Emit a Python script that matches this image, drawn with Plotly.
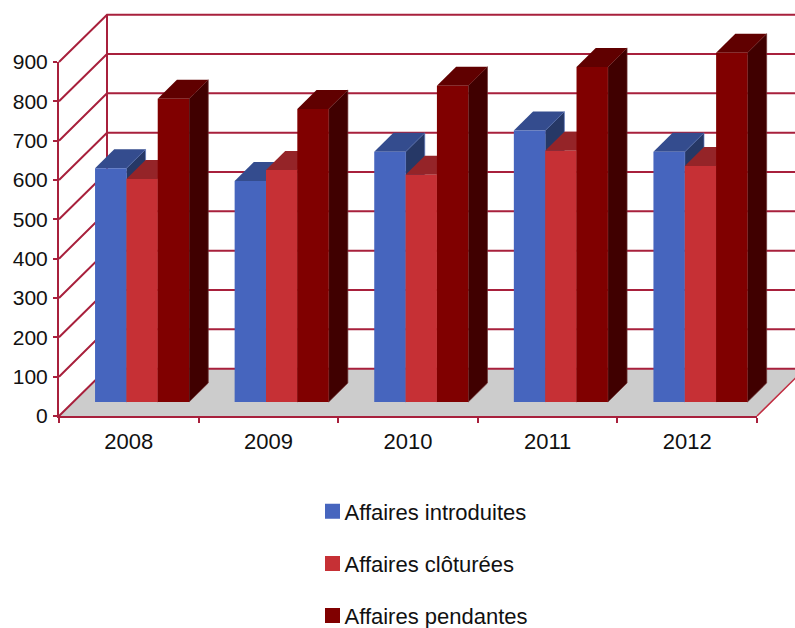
import plotly.graph_objects as go

CATEGORIES = ["2008", "2009", "2010", "2011", "2012"]
INTRODUITES = [594, 562, 636, 690, 636]
CLOTUREES = [567, 590, 578, 639, 600]
PENDANTES = [771, 745, 804, 852, 888]
Y_TICKS = [0, 100, 200, 300, 400, 500, 600, 700, 800, 900]
SERIES_NAMES = ["Affaires introduites", "Affaires clôturées", "Affaires pendantes"]

W, H = 795, 628
AX_L, AX_R, AX_B, AX_T = 59, 757, 416, 62
CAT_PX = (AX_R - AX_L) / len(CATEGORIES)
VAL_PX = (AX_B - AX_T) / 900
WALL_DX, WALL_DY = 48, 47.3
FRONT_DX, FRONT_DY = 14.4, 14
BAR_DX, BAR_DY = 19.2, 19
BAR_W = 0.2245
BAR_START = 0.155
GRID = "#A8203C"
FONT = "Liberation Sans"

STYLES = [
    dict(front="#4665BE", top="#344C8E", side="#263866", edge="#5F78BE"),
    dict(front="#C63035", top="#952428", side="#6A1A1D", edge="#A84A4E"),
    dict(front="#800000", top="#600000", side="#400000", edge="#703434"),
]


def proj(x, v, dx=0.0, dy=0.0):
    return x + dx / CAT_PX, v + dy / VAL_PX


def poly(points):
    xs, ys = zip(*points)
    return list(xs) + [xs[0]], list(ys) + [ys[0]]


fig = go.Figure()


def face(points, color, edge=None):
    xs, ys = poly(points)
    fig.add_trace(go.Scatter(x=xs, y=ys, mode="lines", fill="toself", fillcolor=color,
                             line=dict(width=0.7 if edge else 0, color=edge or color),
                             hoverinfo="skip", showlegend=False))


def line(points, width=2, color=GRID):
    xs, ys = zip(*points)
    fig.add_trace(go.Scatter(x=list(xs), y=list(ys), mode="lines",
                             line=dict(width=width, color=color),
                             hoverinfo="skip", showlegend=False))


N = len(CATEGORIES)
TOP = Y_TICKS[-1]

# floor
face([proj(0, 0), proj(N, 0), proj(N, 0, WALL_DX, WALL_DY), proj(0, 0, WALL_DX, WALL_DY)], "#CCCCCC")

# walls: grid
for t in Y_TICKS:
    line([proj(0, t), proj(0, t, WALL_DX, WALL_DY), proj(N, t, WALL_DX, WALL_DY)], width=2)
line([proj(0, 0, WALL_DX, WALL_DY), proj(0, TOP, WALL_DX, WALL_DY)], width=2)
line([proj(N, 0), proj(N, 0, WALL_DX, WALL_DY)], width=1.5, color="#C02C40")

# bars
ALL = [INTRODUITES, CLOTUREES, PENDANTES]
for i in range(N):
    for s, vals in enumerate(ALL):
        v = vals[i]
        st = STYLES[s]
        x0 = i + BAR_START + s * BAR_W
        x1 = x0 + BAR_W
        fx, fy = FRONT_DX, FRONT_DY
        bx, by = FRONT_DX + BAR_DX, FRONT_DY + BAR_DY
        face([proj(x1, 0, fx, fy), proj(x1, v, fx, fy), proj(x1, v, bx, by), proj(x1, 0, bx, by)], st["side"], st["edge"])
        face([proj(x0, v, fx, fy), proj(x1, v, fx, fy), proj(x1, v, bx, by), proj(x0, v, bx, by)], st["top"])
        face([proj(x0, 0, fx, fy), proj(x1, 0, fx, fy), proj(x1, v, fx, fy), proj(x0, v, fx, fy)], st["front"])

# legend
for name, st in zip(SERIES_NAMES, STYLES):
    fig.add_trace(go.Scatter(x=[None], y=[None], mode="markers", name=name, legendgroup=name,
                             marker=dict(symbol="square", size=15, color=st["front"])))

# real axes
fig.add_trace(go.Scatter(x=CATEGORIES, y=INTRODUITES, xaxis="x2", yaxis="y2", mode="markers",
                         marker=dict(opacity=0), hoverinfo="skip", showlegend=False))

fig.update_layout(
    width=W, height=H,
    margin=dict(l=0, r=0, t=0, b=0, autoexpand=False),
    paper_bgcolor="white", plot_bgcolor="rgba(0,0,0,0)",
    hovermode=False,
    xaxis=dict(visible=False, domain=[0, 1], fixedrange=True,
               range=[-AX_L / CAT_PX, (W - AX_L) / CAT_PX]),
    yaxis=dict(visible=False, domain=[0, 1], fixedrange=True,
               range=[(AX_B - H) / VAL_PX, AX_B / VAL_PX]),
    xaxis2=dict(domain=[AX_L / W, AX_R / W], anchor="y2", type="category",
                categoryorder="array", categoryarray=CATEGORIES, tickson="boundaries",
                range=[-0.5, len(CATEGORIES) - 0.5],
                ticks="outside", ticklen=5, tickwidth=2, tickcolor=GRID, ticklabelstandoff=5,
                showline=True, linecolor=GRID, linewidth=2, showgrid=False, zeroline=False,
                tickfont=dict(family=FONT, size=22, color="#111111"), fixedrange=True),
    yaxis2=dict(domain=[(H - AX_B) / H, (H - AX_T) / H], anchor="x2", range=[0, TOP],
                tickvals=Y_TICKS, ticks="outside", ticklen=4, tickwidth=2, tickcolor=GRID,
                ticklabelstandoff=1,
                showline=True, linecolor=GRID, linewidth=2, showgrid=False, zeroline=False,
                tickfont=dict(family=FONT, size=21, color="#111111"), fixedrange=True),
    showlegend=True,
    legend=dict(x=312.5 / W, y=1 - 490.5 / H, xanchor="left", yanchor="top",
                orientation="v", tracegroupgap=20.5, bgcolor="rgba(0,0,0,0)", indentation=-8,
                font=dict(family=FONT, size=22, color="#111111"), itemclick=False, itemdoubleclick=False),
)

fig.write_html("out.html", config=dict(displayModeBar=False),
               post_script="document.body.style.margin='0';"
                           "document.querySelectorAll('.legend .legendpoints')"
                           ".forEach(function(e){e.setAttribute('transform','translate(8,0)');});")
